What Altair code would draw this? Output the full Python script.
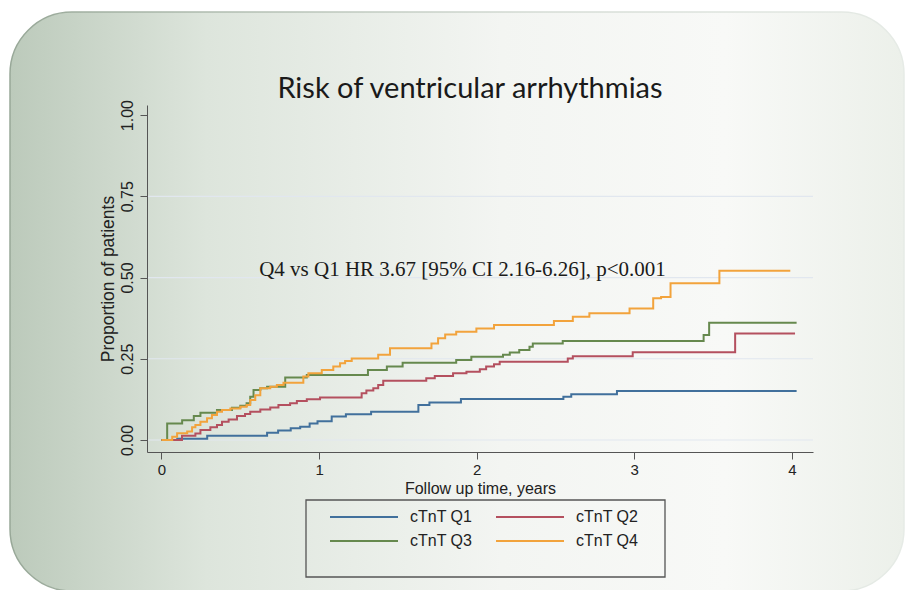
import altair as alt
import pandas as pd

groups = ["cTnT Q1", "cTnT Q2", "cTnT Q3", "cTnT Q4"]
colors = ["#41709c", "#b4505f", "#66894e", "#f2a33c"]

q1_t = [0, 0.10, 0.29, 0.67, 0.74, 0.82, 0.88, 0.94, 0.99, 1.08, 1.17, 1.33, 1.63, 1.70, 1.90, 2.55, 2.60, 2.89, 4.03]
q1_v = [0, 0.004, 0.013, 0.022, 0.029, 0.036, 0.041, 0.051, 0.058, 0.072, 0.079, 0.087, 0.108, 0.115, 0.126, 0.133, 0.141, 0.151, 0.151]

q2_t = [0, 0.13, 0.215, 0.247, 0.31, 0.352, 0.384, 0.426, 0.479, 0.53, 0.563, 0.627, 0.69, 0.742, 0.816, 0.859, 0.922,
        1.006, 1.27, 1.30, 1.344, 1.375, 1.407, 1.68, 1.734, 1.85, 1.935, 2.02, 2.06, 2.11, 2.146, 2.578, 2.61, 2.99,
        3.64, 4.02]
q2_v = [0, 0.013, 0.02, 0.031, 0.039, 0.046, 0.056, 0.063, 0.074, 0.08, 0.087, 0.094, 0.10, 0.108, 0.113, 0.12, 0.125,
        0.131, 0.144, 0.152, 0.159, 0.169, 0.182, 0.19, 0.197, 0.205, 0.21, 0.218, 0.226, 0.233, 0.241, 0.251, 0.258,
        0.27, 0.328, 0.328]

q3_t = [0, 0.036, 0.131, 0.205, 0.247, 0.352, 0.447, 0.5, 0.54, 0.563, 0.584, 0.627, 0.67, 0.785, 0.922, 1.31, 1.43,
        1.53, 1.87, 1.966, 2.167, 2.21, 2.27, 2.335, 2.356, 2.546, 3.44, 3.475, 4.03]
q3_v = [0, 0.051, 0.061, 0.074, 0.084, 0.092, 0.099, 0.105, 0.113, 0.133, 0.154, 0.159, 0.164, 0.192, 0.2, 0.215, 0.226,
        0.238, 0.246, 0.256, 0.262, 0.269, 0.277, 0.287, 0.297, 0.305, 0.323, 0.361, 0.361]

q4_t = [0, 0.068, 0.099, 0.163, 0.194, 0.215, 0.247, 0.289, 0.32, 0.352, 0.384, 0.437, 0.5, 0.54, 0.563, 0.595, 0.627,
        0.69, 0.732, 0.774, 0.9, 0.932, 1.017, 1.09, 1.133, 1.165, 1.207, 1.375, 1.45, 1.713, 1.755, 1.8, 1.87, 1.998,
        2.11, 2.49, 2.61, 2.715, 2.97, 3.12, 3.17, 3.23, 3.54, 3.99]
q4_v = [0, 0.01, 0.021, 0.026, 0.039, 0.046, 0.056, 0.067, 0.077, 0.087, 0.092, 0.097, 0.102, 0.108, 0.123, 0.138, 0.159,
        0.164, 0.169, 0.176, 0.195, 0.205, 0.215, 0.226, 0.236, 0.243, 0.251, 0.262, 0.282, 0.297, 0.313, 0.325, 0.333,
        0.343, 0.354, 0.366, 0.379, 0.39, 0.405, 0.436, 0.44, 0.482, 0.521, 0.521]

y_ticks = [0, 0.25, 0.5, 0.75, 1.0]
x_ticks = [0, 1, 2, 3, 4]
grid_vals = [0, 0.25, 0.5, 0.75]

title_text = "Risk of ventricular arrhythmias"
ann_text = ["Q4 vs Q1 HR 3.67 [95% CI 2.16-6.26], p<0.001"]
ann_x = [1.91]
ann_y = [0.505]

rows = []
for g, ts, vs in zip(groups, [q1_t, q2_t, q3_t, q4_t], [q1_v, q2_v, q3_v, q4_v]):
    for t, v in zip(ts, vs):
        rows.append({"group": g, "time": t, "prop": v})
df = pd.DataFrame(rows)

W, H = 666, 347
xscale = alt.Scale(domain=[-0.092, 4.134], nice=False, zero=False)
yscale = alt.Scale(domain=[-0.037, 1.031], nice=False, zero=False)

common_axis = dict(labelFont="Liberation Sans", titleFont="Liberation Sans", labelColor="#222",
                   titleColor="#222", domainColor="#555", tickColor="#555", tickSize=7, grid=False,
                   titleFontWeight="normal", zindex=1)
x_axis = alt.Axis(values=x_ticks, format="d", title="Follow up time, years", labelFontSize=15,
                  titleFontSize=16, labelPadding=3, titlePadding=3, **common_axis)
y_axis = alt.Axis(values=y_ticks, format=".2f", title="Proportion of patients", labelAngle=270,
                  labelFontSize=16, titleFontSize=17.5, labelPadding=5, titlePadding=2, **common_axis)

one = pd.DataFrame({"k": [0]})

bg = alt.Chart(one).mark_rect(
    cornerRadius=62,
    fill=alt.LinearGradient(
        gradient="linear",
        stops=[
            alt.GradientStop(color="#bccabb", offset=0),
            alt.GradientStop(color="#dde5dc", offset=0.22),
            alt.GradientStop(color="#f3f5f2", offset=0.55),
            alt.GradientStop(color="#f8f9f7", offset=0.8),
            alt.GradientStop(color="#ecf0ea", offset=1),
        ],
        x1=0, x2=1, y1=0, y2=0,
    ),
    stroke=alt.LinearGradient(
        gradient="linear",
        stops=[
            alt.GradientStop(color="#98a898", offset=0),
            alt.GradientStop(color="#d5dcd5", offset=0.6),
            alt.GradientStop(color="#e6ebe6", offset=1),
        ],
        x1=0, x2=1, y1=0, y2=0,
    ),
    strokeWidth=1.5,
).encode(x=alt.value(-137), x2=alt.value(757), y=alt.value(-93), y2=alt.value(486))

grid = alt.Chart(pd.DataFrame({"g": grid_vals})).mark_rule(color="#e1e7ef", strokeWidth=1.2).encode(
    y=alt.Y("g:Q", scale=yscale, axis=y_axis),
    x=alt.value(0), x2=alt.value(W),
)

lines = alt.Chart(df).mark_line(interpolate="step-after", strokeWidth=2).encode(
    x=alt.X("time:Q", scale=xscale, axis=x_axis),
    y=alt.Y("prop:Q", scale=yscale, axis=y_axis),
    color=alt.Color("group:N", scale=alt.Scale(domain=groups, range=colors), legend=None),
    order="time:Q",
)

ann = alt.Chart(pd.DataFrame({"x": ann_x, "y": ann_y, "t": ann_text})).mark_text(
    font="Liberation Serif", fontSize=21, color="#1a1a1a", align="center", baseline="alphabetic"
).encode(x=alt.X("x:Q", scale=xscale), y=alt.Y("y:Q", scale=yscale), text="t:N")

title = alt.Chart(one).mark_text(
    text=title_text, font="Lato", fontSize=29, color="#1a1a1a", align="center", baseline="middle"
).encode(x=alt.value(323), y=alt.value(-16))

# manual legend (layout computed here, not data)
LEG_L, LEG_T, LEG_R, LEG_B = 159, 395, 518, 472
leg_rows = []
for i, (g, c) in enumerate(zip(groups, colors)):
    col, row = i % 2, i // 2
    sx = 183 + col * 166
    leg_rows.append({"group": g, "c": c, "sx1": sx, "sx2": sx + 68, "tx": sx + 80, "yy": 412 + row * 24})
leg_df = pd.DataFrame(leg_rows)

leg_box = alt.Chart(one).mark_rect(filled=False, stroke="#555", strokeWidth=1.3).encode(
    x=alt.value(LEG_L), x2=alt.value(LEG_R), y=alt.value(LEG_T), y2=alt.value(LEG_B)
)
leg_sym = alt.Chart(leg_df).mark_rule(strokeWidth=2).encode(
    x=alt.X("sx1:Q", scale=None), x2="sx2:Q", y=alt.Y("yy:Q", scale=None),
    color=alt.Color("c:N", scale=None),
)
leg_txt = alt.Chart(leg_df).mark_text(
    font="Liberation Sans", fontSize=16, color="#222", align="left", baseline="middle"
).encode(x=alt.X("tx:Q", scale=None), y=alt.Y("yy:Q", scale=None), text="group:N")

chart = alt.layer(bg, grid, lines, ann, title, leg_box, leg_sym, leg_txt).properties(
    width=W, height=H,
    autosize=alt.AutoSizeParams(type="none"),
    padding={"left": 139, "top": 97, "right": 94, "bottom": 138},
).resolve_scale(color="independent").configure_view(stroke=None).configure(background="white")

chart.save("out.html", embed_options={"renderer": "svg", "actions": False})
